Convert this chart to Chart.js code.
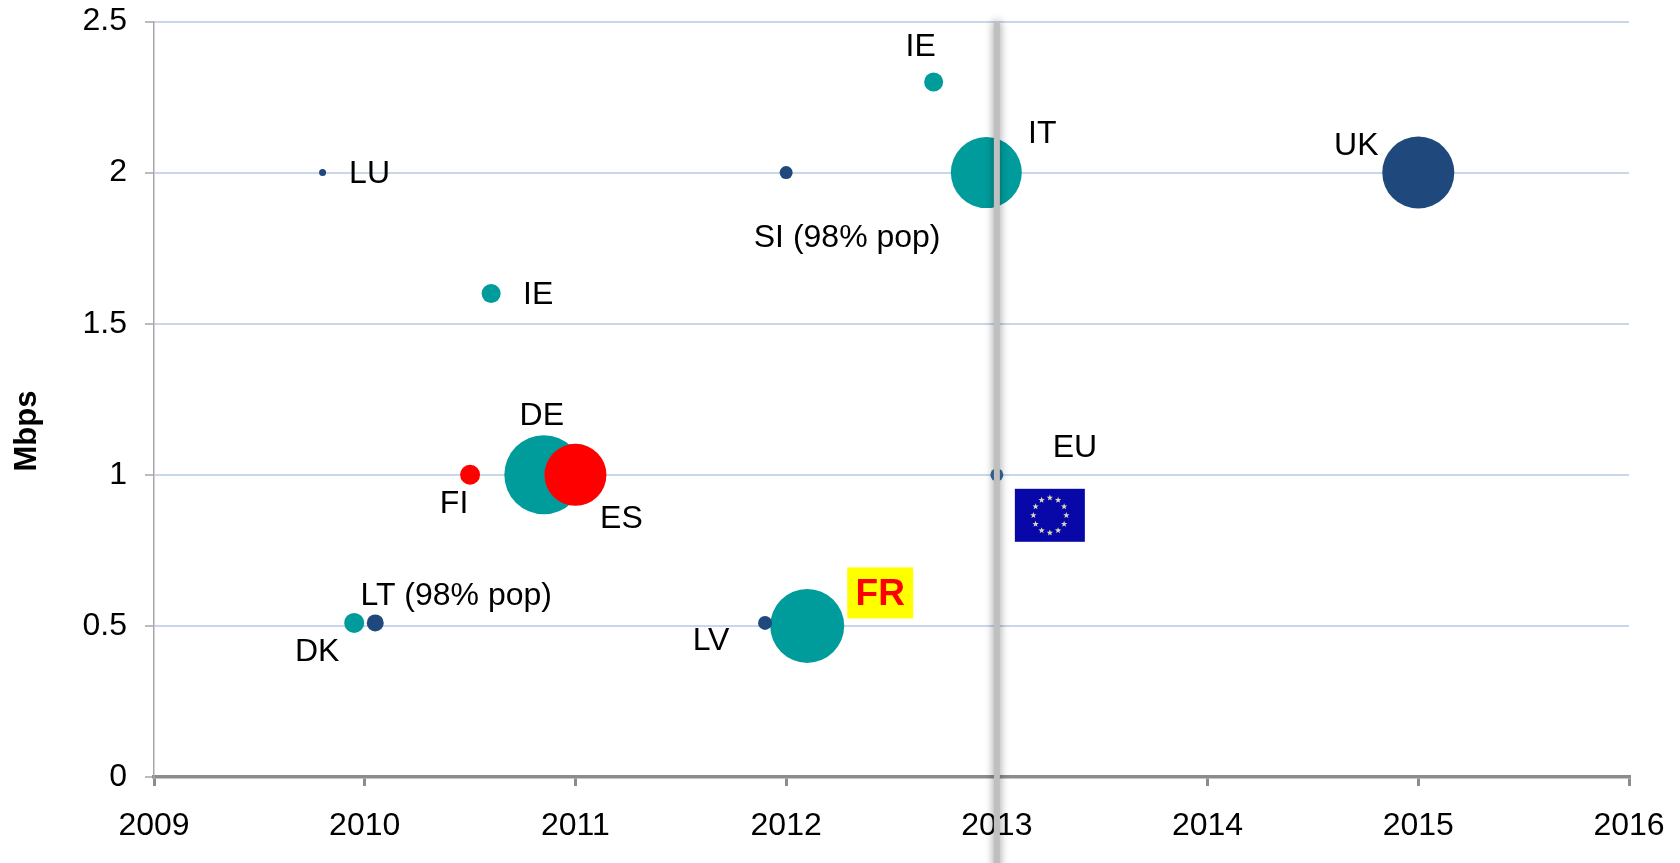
<!DOCTYPE html>
<html>
<head>
<meta charset="utf-8">
<style>html,body{margin:0;padding:0;background:#fff}#w{width:1680px;height:863px}canvas{display:block}</style>
<script src="https://cdn.jsdelivr.net/npm/chart.js@4/dist/chart.umd.min.js"></script>
</head>
<body>
<div id="w"><canvas id="c" width="1680" height="863"></canvas></div>
<script>
// Teal series
const tealNames = ['IE','IT','IE','DE','DK','FR'];
const tealYears = [2012.7,2012.95,2010.6,2010.85,2009.95,2012.1];
const tealMbps  = [2.3,2,1.6,1,0.51,0.5];
const tealSizes = [9.5,35.5,9.5,39.5,10,37];
// Navy series
const navyNames = ['LU','SI (98% pop)','UK','LT (98% pop)','LV'];
const navyYears = [2009.8,2012,2015,2010.05,2011.9];
const navyMbps  = [2,2,2,0.51,0.51];
const navySizes = [3.5,6.5,36,8.5,7];
// Red series
const redNames = ['FI','ES'];
const redYears = [2010.5,2011];
const redMbps  = [1,1];
const redSizes = [10,31];
// EU average
const euNames = ['EU'];
const euYears = [2013];
const euMbps  = [1];
const euSizes = [6.5];

const yTickLabels = [0,0.5,1,1.5,2,2.5];
const xTickLabels = [2009,2010,2011,2012,2013,2014,2015,2016];
const targetYear = 2013;
const yAxisTitle = 'Mbps';

// Label offsets from each mark, in pixels
const tealOffsets = [[-13,-35],[56,-38],[47,2],[-2,-59],[-37,29.5],[73,-33]];
const navyOffsets = [[47,2],[61,66],[-62,-26],[81,-27],[-54,18]];
const redOffsets  = [[-16,29],[46,44]];
const euOffsets   = [[78,-27]];

const FONT = '"Liberation Sans", Arial, sans-serif';
const toPoints = (xs,ys,rs) => xs.map((x,i)=>({x,y:ys[i],r:rs[i]}));

function star(ctx,cx,cy,R){
  ctx.beginPath();
  for(let i=0;i<10;i++){
    const a=-Math.PI/2+i*Math.PI/5, r=i%2?R*0.42:R;
    ctx.lineTo(cx+r*Math.cos(a),cy+r*Math.sin(a));
  }
  ctx.closePath();ctx.fill();
}

const decor = {
  id:'decor',
  afterDatasetsDraw(chart){
    const {ctx,scales:{x,y},chartArea:a}=chart;
    // Vertical 2013 reference line with soft shadow
    ctx.save();
    const lx=x.getPixelForValue(targetYear);
    ctx.shadowColor='rgba(0,0,0,0.45)';ctx.shadowBlur=9;ctx.shadowOffsetX=0;
    ctx.fillStyle='#bfbfbf';
    ctx.fillRect(lx-3,a.top,6,chart.height-a.top+10);
    ctx.restore();
    // Text labels
    ctx.save();
    ctx.font='32px '+FONT;ctx.fillStyle='#000';ctx.textAlign='center';ctx.textBaseline='middle';
    const put=(names,xs,ys,offs)=>names.forEach((n,i)=>{
      if(n==='FR')return;
      ctx.fillText(n,x.getPixelForValue(xs[i])+offs[i][0],y.getPixelForValue(ys[i])+offs[i][1]);
    });
    put(tealNames,tealYears,tealMbps,tealOffsets);
    put(navyNames,navyYears,navyMbps,navyOffsets);
    put(redNames,redYears,redMbps,redOffsets);
    put(euNames,euYears,euMbps,euOffsets);
    // FR highlighted label
    const fi=tealNames.indexOf('FR');
    const fx=x.getPixelForValue(tealYears[fi])+tealOffsets[fi][0];
    const fy=y.getPixelForValue(tealMbps[fi])+tealOffsets[fi][1];
    ctx.fillStyle='#ffff00';ctx.fillRect(fx-33,fy-25.5,66,51);
    ctx.fillStyle='#ff0000';ctx.font='bold 37px '+FONT;ctx.fillText('FR',fx,fy+2);
    // EU flag below the EU label
    const ex=x.getPixelForValue(euYears[0])+53, ey=y.getPixelForValue(euMbps[0])+40.5;
    ctx.fillStyle='#0808a8';ctx.fillRect(ex-35,ey-26.5,70,53);
    ctx.fillStyle='#d8d8b8';
    for(let i=0;i<12;i++){
      const t=i*Math.PI/6;
      star(ctx,ex+16.5*Math.cos(t),ey+17.5*Math.sin(t),3.3);
    }
    // Axis title
    ctx.translate(27,431);ctx.rotate(-Math.PI/2);
    ctx.fillStyle='#000';ctx.font='bold 31px '+FONT;ctx.fillText(yAxisTitle,0,0);
    ctx.restore();
  }
};

new Chart(document.getElementById('c'),{
  type:'bubble',
  data:{datasets:[
    {label:'Red',data:toPoints(redYears,redMbps,redSizes),backgroundColor:'#ff0000',borderWidth:0,hoverRadius:0},
    {label:'EU',data:toPoints(euYears,euMbps,euSizes),backgroundColor:'#3b6ba0',borderWidth:0,hoverRadius:0},
    {label:'Navy',data:toPoints(navyYears,navyMbps,navySizes),backgroundColor:'#1f497d',borderWidth:0,hoverRadius:0},
    {label:'Teal',data:toPoints(tealYears,tealMbps,tealSizes),backgroundColor:'#009c9c',borderWidth:0,hoverRadius:0}
  ]},
  plugins:[decor],
  options:{
    responsive:false,animation:false,
    layout:{autoPadding:false,padding:{left:0,right:51,top:21.5,bottom:0}},
    plugins:{legend:{display:false},tooltip:{enabled:false},title:{display:false}},
    scales:{
      x:{type:'linear',min:xTickLabels[0],max:xTickLabels[xTickLabels.length-1],
        afterBuildTicks:s=>{s.ticks=xTickLabels.map(v=>({value:v}));},
        afterFit:s=>{s.height=86;s.paddingLeft=0;s.paddingRight=0;},
        border:{color:'#8c8c8c',width:3.5},
        grid:{drawOnChartArea:false,drawTicks:true,tickLength:9,tickColor:'#8c8c8c',tickWidth:3,lineWidth:3,color:'#8c8c8c'},
        ticks:{color:'#000',font:{family:FONT,size:32},padding:21,maxRotation:0,autoSkip:false,callback:v=>String(v)}
      },
      y:{type:'linear',min:0,max:yTickLabels[yTickLabels.length-1],
        afterBuildTicks:s=>{s.ticks=yTickLabels.map(v=>({value:v}));},
        afterFit:s=>{s.width=154;s.paddingTop=0;s.paddingBottom=0;},
        border:{color:'#a6a6a6',width:1.5},
        grid:{color:'#c9d7ea',lineWidth:2,tickLength:9,tickColor:'#a6a6a6',tickWidth:1.5},
        ticks:{color:'#000',font:{family:FONT,size:32},padding:18,autoSkip:false,callback:v=>String(v)}
      }
    }
  }
});
</script>
</body>
</html>
